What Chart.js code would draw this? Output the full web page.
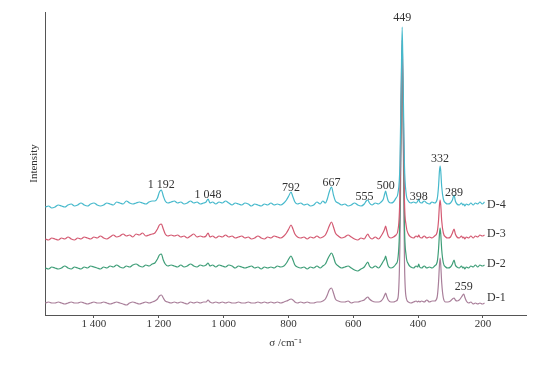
<!DOCTYPE html>
<html>
<head>
<meta charset="utf-8">
<script src="https://cdn.jsdelivr.net/npm/chart.js@4.4.1/dist/chart.umd.min.js"></script>
<style>
  html, body { margin: 0; padding: 0; background: #fff; }
  #wrap { width: 550px; height: 367px; position: relative; }
</style>
</head>
<body>
<div id="wrap"><canvas id="raman"></canvas></div>
<script>
// Raman shift (cm-1), shared by all four spectra
const waveNumbers = [
  1550,1540,1530,1520,1510,1500,1490,1480,1470,1460,1450,1440,1430,1420,1410,1400,1390,1380,1370,1360,1350,1340,1330,1320,1310,1300,1290,1280,1270,1260,1250,1240,1230,1220,
  1212,1204,1198,1192,1186,1180,1172,
  1162,1152,1142,1132,1122,1112,1102,1092,1082,1072,1062,1054,1048,1042,1034,1024,1014,1004,994,984,974,964,954,944,934,924,914,904,894,884,874,864,854,844,834,824,814,806,
  799,792,786,780,
  772,762,752,742,732,722,712,702,694,686,680,
  674,667,661,655,
  646,636,626,616,606,596,586,576,566,560,555,550,542,532,522,514,507,
  503,500,497,492,484,476,468,
  462,456,452,449,446,442,437,430,422,414,406,401,398,395,389,381,373,365,357,349,341,337,
  334,332,330,327,322,315,308,300,294,289,285,280,273,266,262,259,256,251,244,237,230,223,216,209,202,195
];

// stacked intensities (a.u.)
const d4 = [
  108,109,107,108,110,109,108,110,111,109,110,112,110,109,111,112,110,109,110,112,111,110,113,112,111,114,112,111,112,113,112,111,113,114,
  114,117,123,125,119,114,112,
  113,114,112,113,111,112,114,112,113,111,112,113,116,112,113,111,113,112,114,112,110,112,111,110,112,111,109,111,110,109,111,110,112,110,111,110,112,115,
  119,123,118,113,
  111,112,110,111,109,110,113,111,114,112,116,
  123,128,120,114,
  112,110,111,109,110,112,110,109,111,114,115,112,110,112,111,113,116,
  121,124,120,114,112,113,117,
  122,150,230,288,230,150,122,114,112,113,112,114,116,113,112,114,112,111,113,112,116,128,
  144,149,144,128,116,112,111,112,115,120,114,111,110,112,110,111,109,111,110,112,110,112,111,113,111,113
];
const d3 = [
  76,75,77,76,75,77,76,78,76,75,77,76,78,77,76,78,77,79,77,76,78,80,78,79,81,79,80,78,81,80,82,79,80,81,
  82,86,90,91,86,81,79,
  80,79,80,78,79,77,79,81,78,79,78,79,82,78,79,77,79,78,80,78,79,77,78,79,77,78,76,77,79,77,76,78,77,79,78,77,79,82,
  86,90,86,81,
  78,77,78,76,78,77,79,77,78,80,84,
  89,93,88,82,
  79,77,78,80,78,76,75,77,76,79,81,78,76,78,76,79,83,
  86,89,85,79,77,78,80,
  85,120,220,275,215,115,90,81,78,77,79,78,80,78,77,79,77,78,77,79,83,94,
  110,115,110,94,82,78,77,78,82,86,81,78,77,79,77,78,76,78,77,79,77,79,78,80,79,80
];
const d2 = [
  47,46,48,47,46,47,49,47,46,48,47,46,48,47,49,48,47,46,48,47,49,48,50,48,47,49,48,50,51,49,48,50,49,51,
  52,56,60,61,55,51,49,
  50,49,48,50,48,49,51,49,48,50,49,50,52,49,50,48,50,49,48,50,49,47,49,48,47,48,49,47,48,46,48,47,48,47,49,48,49,52,
  56,59,55,50,
  48,47,48,46,48,47,49,47,49,51,55,
  59,62,58,52,
  49,47,48,49,47,45,44,46,48,51,53,49,47,49,47,50,54,
  56,59,55,49,47,48,51,
  57,100,205,265,200,90,60,51,48,47,49,48,51,48,47,49,47,48,47,49,53,65,
  81,87,81,65,52,48,47,48,51,55,50,48,47,49,47,48,46,48,47,49,48,50,48,50,49,50
];
const d1 = [
  12,13,12,12,13,12,11,12,13,12,12,13,12,11,12,13,12,12,13,12,11,12,13,12,11,10,12,13,12,11,12,13,12,13,
  14,16,19,20,17,14,13,
  12,13,12,13,12,11,13,12,13,12,13,13,15,13,12,13,12,13,12,13,12,12,13,12,12,13,12,12,13,12,13,12,13,12,13,12,13,14,
  15,16,15,13,
  12,13,12,13,12,12,13,13,14,16,20,
  25,27,22,16,
  14,13,13,14,12,13,13,14,15,17,18,16,14,13,13,14,17,
  20,22,19,15,13,13,14,
  17,70,190,255,185,55,18,13,12,13,14,13,14,13,14,13,15,13,14,14,18,32,
  50,57,50,32,17,13,13,14,16,17,15,14,15,18,20,21,18,14,12,13,11,12,11,12,11,12
];

const seriesNames = ['D-4', 'D-3', 'D-2', 'D-1'];
const seriesValues = [d4, d3, d2, d1];
const seriesColors = ['#46b9cc', '#d45a72', '#3f9e78', '#a97f9a'];
const nameY = [110, 81, 51, 17];

const tickValues = [1400, 1200, 1000, 800, 600, 400, 200];
const tickLabels = ['1 400', '1 200', '1 000', '800', '600', '400', '200'];

const peakText = ['1 192', '1 048', '792', '667', '555', '500', '449', '398', '332', '289', '259'];
const peakX = [1192, 1048, 792, 667, 565, 500, 449, 398, 332, 289, 259];
const peakY = [130, 120, 127, 132, 118, 129, 297, 118, 156, 122, 28];

const serif = 'Liberation Serif';
const textColor = '#333';
const axisColor = '#555';

// peak numbers and D-n names
const annotate = {
  id: 'annotate',
  afterDatasetsDraw(chart) {
    const { ctx, scales: { x, y } } = chart;
    ctx.save();
    ctx.font = '12px "' + serif + '"';
    ctx.fillStyle = textColor;
    ctx.textAlign = 'center';
    ctx.textBaseline = 'middle';
    peakText.forEach((t, i) => {
      ctx.fillText(t, x.getPixelForValue(peakX[i]), y.getPixelForValue(peakY[i]));
    });
    ctx.textAlign = 'left';
    seriesNames.forEach((n, i) => {
      ctx.fillText(n, x.getPixelForValue(187), y.getPixelForValue(nameY[i]));
    });
    ctx.restore();
  }
};

new Chart(document.getElementById('raman'), {
  type: 'line',
  data: {
    datasets: seriesNames.map((name, i) => ({
      label: name,
      data: waveNumbers.map((w, j) => ({ x: w, y: seriesValues[i][j] })),
      borderColor: seriesColors[i],
      borderWidth: 1.2,
      pointRadius: 0,
      cubicInterpolationMode: 'monotone',
      fill: false
    }))
  },
  options: {
    responsive: true,
    maintainAspectRatio: false,
    animation: false,
    layout: { padding: { top: 12, right: 24, left: 0, bottom: 0 } },
    plugins: {
      legend: { display: false },
      tooltip: { enabled: false }
    },
    scales: {
      x: {
        type: 'linear',
        reverse: true,
        min: 67,
        max: 1551,
        afterBuildTicks: s => { s.ticks = tickValues.map(v => ({ value: v })); },
        afterFit: s => { s.height = 52; },
        grid: { drawOnChartArea: false, tickLength: 3, color: axisColor },
        border: { color: axisColor, width: 1 },
        ticks: {
          padding: 0,
          autoSkip: false,
          maxRotation: 0,
          color: textColor,
          font: { family: serif, size: 11 },
          callback: v => { const k = tickValues.indexOf(v); return k < 0 ? '' : tickLabels[k]; }
        },
        title: {
          display: true,
          text: 'σ /cm⁻¹',
          color: textColor,
          font: { family: serif, size: 11 },
          padding: { top: 0, bottom: 17 }
        }
      },
      y: {
        min: 0,
        max: 303,
        afterFit: s => { s.width = 45; },
        grid: { display: false },
        border: { color: axisColor, width: 1 },
        ticks: { display: false },
        title: {
          display: true,
          text: 'Intensity',
          color: textColor,
          font: { family: serif, size: 11 },
          padding: { top: 28, bottom: 0 }
        }
      }
    }
  },
  plugins: [annotate]
});
</script>
</body>
</html>
